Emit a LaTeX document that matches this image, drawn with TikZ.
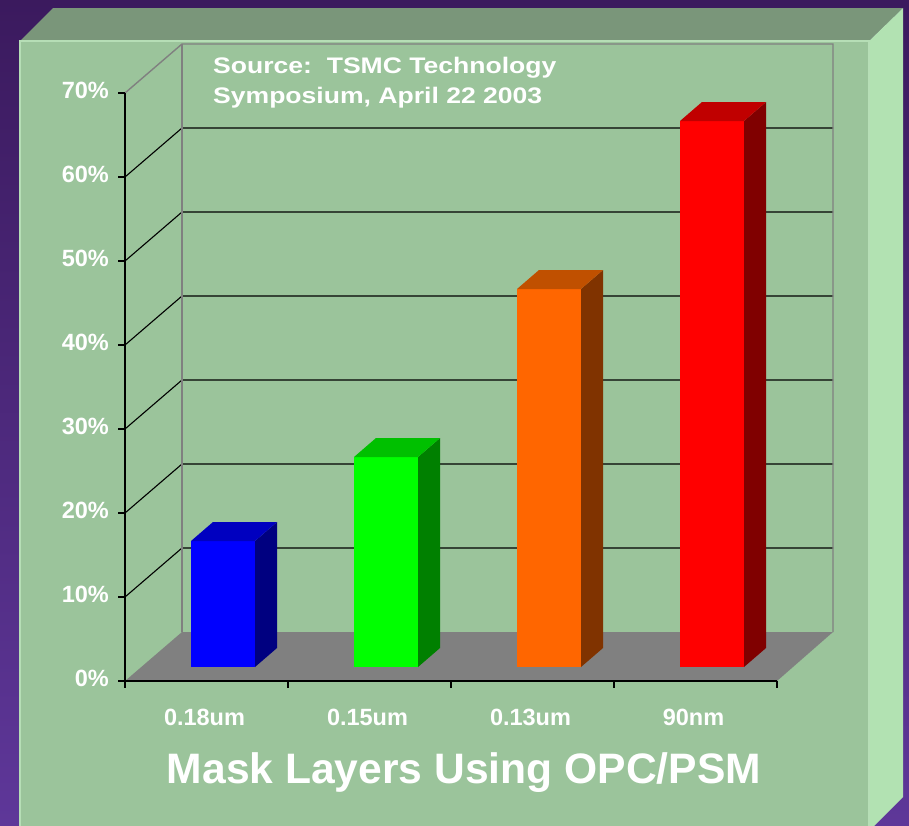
\documentclass[tikz,border=0pt]{standalone}
\usepackage{fontspec}
\setmainfont{Liberation Sans}
\usepackage{graphicx}
\usetikzlibrary{positioning,calc}

\definecolor{bgtop}{HTML}{3B1A5E}
\definecolor{bgbottom}{HTML}{5E3799}
\definecolor{panelfront}{HTML}{9BC49B}
\definecolor{paneltop}{HTML}{7A967A}
\definecolor{panelside}{HTML}{B2E2B2}
\definecolor{paneledge}{HTML}{B6DEB6}
\definecolor{floorgray}{HTML}{808080}
% bar colours: front / top / side
\definecolor{bluefront}{HTML}{0000FF}
\definecolor{bluetop}{HTML}{0000C0}
\definecolor{blueside}{HTML}{000080}
\definecolor{greenfront}{HTML}{00FF00}
\definecolor{greentop}{HTML}{00C000}
\definecolor{greenside}{HTML}{008000}
\definecolor{orangefront}{HTML}{FF6600}
\definecolor{orangetop}{HTML}{C05000}
\definecolor{orangeside}{HTML}{803300}
\definecolor{redfront}{HTML}{FF0000}
\definecolor{redtop}{HTML}{C00000}
\definecolor{redside}{HTML}{800000}

\begin{document}
\begin{tikzpicture}[
    x=1pt, y=-1pt,
    grid/.style={black, line width=1.1pt},
    wall/.style={floorgray, line width=1.4pt},
    axis/.style={black, line width=1.2pt},
    ticklabel/.style={text=white, font=\bfseries\fontsize{23.5}{28}\selectfont, inner sep=0pt},
    sourcetext/.style={text=white, font=\bfseries\fontsize{22.5}{27}\selectfont, inner sep=0pt, anchor=base west},
    titletext/.style={text=white, font=\bfseries\fontsize{42.6}{48}\selectfont, inner sep=0pt, anchor=base}
]
    \useasboundingbox (0,0) rectangle (909,825);

    % Background
    \shade[top color=bgtop, bottom color=bgbottom] (0,0) rectangle (909,825);

    % Raised panel: top, right side, front
    \fill[paneltop] (20,41) -- (53,8) -- (903,8) -- (869,41) -- cycle;
    \fill[panelside] (869,41) -- (903,8) -- (903,797) -- (869,831) -- cycle;
    \fill[panelfront] (20,41) rectangle (869,831);
    \draw[paneledge, line width=1.2pt] (20,831) -- (20,41) -- (869,41) -- (869,831);

    % Floor
    \fill[floorgray] (125,681) -- (182,632) -- (833,632) -- (777,681) -- cycle;

    % Gridlines on side and back walls
    \foreach \k in {1,...,6}
        \draw[grid] (125,{681-84*\k}) -- (182,{632-84*\k}) -- (833,{632-84*\k});

    % Wall outline
    \draw[wall] (125,93) -- (182,44) -- (833,44) -- (833,632);
    \draw[wall] (182,44) -- (182,632);

    % Axes and ticks
    \draw[axis] (125,93) -- (125,681) -- (777,681);
    \foreach \k in {0,...,7}
        \draw[axis] (118,{681-84*\k}) -- (125,{681-84*\k});
    \foreach \i in {0,...,4}
        \draw[axis] ({125+163*\i},681) -- ({125+163*\i},688);

    % Value labels
    \foreach \k in {0,...,7} {
        \pgfmathtruncatemacro{\pct}{10*\k}
        \node[ticklabel, anchor=base east] (pct\k) at (109,{686-84*\k}) {\pct\%};
    }

    % Bars
    \foreach \v/\col [count=\i from 0] in {15/blue, 25/green, 45/orange, 65/red} {
        \pgfmathsetmacro{\xa}{191+163*\i}
        \pgfmathsetmacro{\xb}{\xa+64}
        \pgfmathsetmacro{\yt}{667-8.4*\v}
        \fill[\col front] (\xa,667) rectangle (\xb,\yt);
        \fill[\col side] (\xb,667) -- (\xb,\yt) -- (\xb+22,\yt-19) -- (\xb+22,648) -- cycle;
        \fill[\col top] (\xa,\yt) -- (\xa+22,\yt-19) -- (\xb+22,\yt-19) -- (\xb,\yt) -- cycle;
    }

    % Category labels
    \foreach \lab [count=\i from 0] in {0.18um, 0.15um, 0.13um, 90nm}
        \node[ticklabel, anchor=base] (cat\i) at ({204.5+163*\i},725) {\lab};

    % Source note
    \node[sourcetext] (source) at (213,73) {\scalebox{1.18}[1]{Source:\ \ TSMC Technology}};
    \node[sourcetext] (sourcedate) at (213,103) {\scalebox{1.18}[1]{Symposium, April 22 2003}};

    % Axis title
    \node[titletext] (title) at (464,783) {Mask Layers Using OPC/PSM};
\end{tikzpicture}
\end{document}
